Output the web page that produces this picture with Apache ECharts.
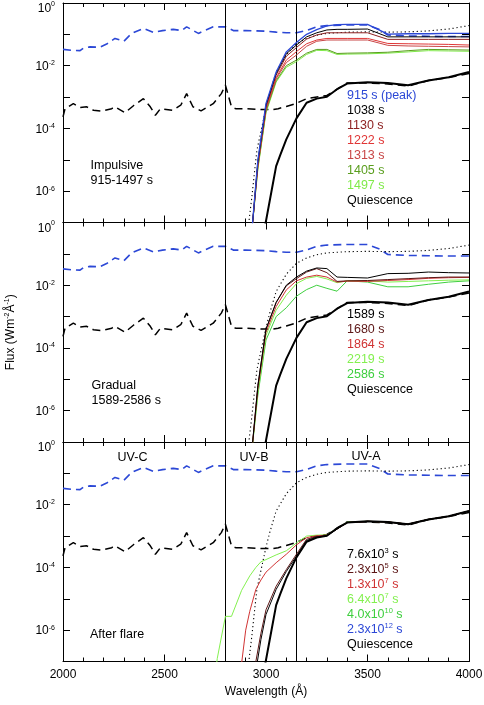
<!DOCTYPE html>
<html><head><meta charset="utf-8">
<script src="https://cdn.jsdelivr.net/npm/echarts@6/dist/echarts.min.js"></script>
<style>html,body{margin:0;padding:0;background:#fff}#c{width:484px;height:705px}</style>
</head><body><div id="c"></div>
<script>
// ---------- DATA (flux given as log10 of W m^-2 A^-1) ----------
const xTicks = [2000, 2500, 3000, 3500, 4000];
const uvBounds = [2800, 3150];
const uvBands = ['UV-C', 'UV-B', 'UV-A'];

const wlBlueDash = [2000, 2045, 2084, 2100, 2133, 2182, 2215, 2256, 2300, 2338, 2396, 2445, 2490, 2543, 2585, 2609, 2667, 2740, 2800, 2839, 2900, 3000, 3050, 3100, 3150, 3200, 3250, 3300, 3400, 3500, 3560, 3600, 3700, 3800, 3900, 4000];
const logBlueDash = [-1.48, -1.51, -1.52, -1.44, -1.40, -1.41, -1.31, -1.13, -1.22, -0.97, -0.81, -0.94, -0.88, -0.84, -0.88, -0.76, -0.97, -0.76, -0.76, -0.88, -0.88, -0.90, -0.93, -0.95, -0.95, -0.88, -0.76, -0.72, -0.70, -0.70, -0.85, -1.02, -1.05, -1.06, -1.07, -1.07];

const wlBlackDash = [2000, 2010, 2051, 2084, 2117, 2150, 2190, 2240, 2256, 2305, 2350, 2396, 2430, 2455, 2480, 2540, 2580, 2609, 2640, 2680, 2740, 2780, 2800, 2830, 2850, 2900, 2995, 3030, 3060, 3100, 3150, 3200, 3300, 3400, 3500, 3600, 3700, 3800, 3900, 4000];
const logBlackDash = [-3.63, -3.37, -3.21, -3.33, -3.31, -3.42, -3.45, -3.37, -3.31, -3.50, -3.26, -3.05, -3.31, -3.58, -3.37, -3.42, -3.26, -2.89, -3.31, -3.44, -3.21, -2.89, -2.62, -3.31, -3.37, -3.37, -3.40, -3.40, -3.37, -3.30, -3.20, -3.05, -2.95, -2.55, -2.55, -2.58, -2.65, -2.47, -2.38, -2.25];

const wlDotted = [2910, 2930, 2955, 2980, 3000, 3020, 3050, 3100, 3150, 3200, 3250, 3300, 3400, 3500, 3600, 3700, 3800, 3900, 4000];
const logDotted = [-7.3, -6.2, -4.7, -3.95, -3.35, -2.85, -2.2, -1.65, -1.3, -1.13, -1.03, -0.97, -0.93, -0.92, -0.93, -0.92, -0.89, -0.83, -0.72];

const wlQuiet = [2990, 3030, 3050, 3070, 3100, 3150, 3200, 3250, 3300, 3350, 3400, 3500, 3600, 3700, 3800, 3900, 4000];
const logQuiet = [-7.3, -5.9, -5.2, -4.85, -4.35, -3.68, -3.18, -3.05, -2.99, -2.75, -2.57, -2.53, -2.55, -2.62, -2.47, -2.37, -2.2];

// Panels 1 & 2 share a wavelength grid
const wlFlare = [2930, 2960, 3000, 3050, 3100, 3150, 3200, 3250, 3300, 3350, 3400, 3500, 3600, 3700, 3800, 3900, 4000];
// Impulsive phase
const imp915  = [-7.3, -5.0, -3.2, -2.2, -1.56, -1.26, -1.0, -0.85, -0.73, -0.69, -0.68, -0.68, -0.99, -0.98, -0.98, -0.97, -0.97];
const imp1038 = [-7.3, -5.05, -3.25, -2.25, -1.62, -1.34, -1.08, -0.95, -0.86, -0.84, -0.84, -0.83, -1.08, -1.08, -1.08, -1.08, -1.08];
const imp1130 = [-7.3, -5.1, -3.3, -2.3, -1.7, -1.42, -1.15, -1.02, -0.95, -0.95, -0.95, -0.95, -1.16, -1.16, -1.16, -1.16, -1.16];
const imp1222 = [-7.3, -5.15, -3.35, -2.38, -1.82, -1.55, -1.3, -1.18, -1.13, -1.13, -1.13, -1.13, -1.29, -1.30, -1.31, -1.32, -1.34];
const imp1313 = [-7.3, -5.2, -3.4, -2.42, -1.9, -1.66, -1.38, -1.22, -1.18, -1.18, -1.18, -1.18, -1.35, -1.37, -1.38, -1.39, -1.40];
const imp1405 = [-7.3, -5.25, -3.45, -2.48, -2.0, -1.82, -1.6, -1.48, -1.48, -1.61, -1.60, -1.59, -1.57, -1.52, -1.48, -1.49, -1.50];
const imp1497 = [-7.3, -5.3, -3.5, -2.52, -2.05, -1.87, -1.64, -1.51, -1.52, -1.64, -1.63, -1.62, -1.60, -1.56, -1.52, -1.53, -1.54];
// Gradual phase
const grd1589 = [-7.3, -5.2, -3.4, -2.55, -2.0, -1.74, -1.55, -1.45, -1.47, -1.74, -1.75, -1.77, -1.63, -1.62, -1.58, -1.60, -1.61];
const grd1680 = [-7.3, -5.2, -3.4, -2.55, -2.02, -1.79, -1.58, -1.47, -1.60, -1.88, -1.86, -1.85, -1.82, -1.79, -1.76, -1.74, -1.74];
const grd1864 = [-7.3, -5.3, -3.5, -2.68, -2.15, -1.86, -1.74, -1.68, -1.74, -1.90, -1.87, -1.88, -1.85, -1.82, -1.78, -1.76, -1.75];
const grd2219 = [-7.3, -5.4, -3.6, -2.8, -2.32, -1.95, -1.78, -1.72, -1.80, -1.92, -1.86, -1.86, -1.90, -1.88, -1.86, -1.84, -1.83];
const grd2586 = [-7.3, -5.5, -3.75, -3.0, -2.72, -2.35, -2.14, -2.0, -2.1, -2.19, -1.86, -1.90, -2.05, -2.05, -1.97, -1.90, -1.86];

// After flare
const wlAfter = [2750, 2760, 2800, 2830, 2880, 2900, 2920, 2950, 2975, 3000, 3050, 3100, 3150, 3200, 3250, 3300, 3400, 3500, 3600, 3700, 3800, 3900, 4000];
const aft76e3 = [null, null, null, null, null, null, null, -7.3, -6.3, -5.5, -4.7, -4.13, -3.64, -3.14, -3.04, -2.99, -2.57, -2.53, -2.55, -2.62, -2.47, -2.37, -2.2];
const aft23e5 = [null, null, null, null, null, null, null, -7.0, -6.1, -5.35, -4.6, -4.07, -3.58, -3.1, -3.02, -2.98, -2.57, -2.53, -2.55, -2.62, -2.47, -2.37, -2.2];
const aft13e7 = [null, null, null, null, -7.05, -6.0, -5.4, -4.7, -4.4, -4.15, -3.85, -3.58, -3.28, -3.05, -2.99, -2.97, -2.57, -2.53, -2.55, -2.62, -2.47, -2.37, -2.2];
const aft64e7 = [-7.4, -6.9, -5.56, -5.56, -4.73, -4.5, -4.27, -4.0, -3.82, -3.75, -3.6, -3.47, -3.22, -3.0, -2.97, -2.96, -2.55, -2.53, -2.55, -2.62, -2.47, -2.37, -2.2];

// Legend texts
const legendImp = ['915 s (peak)', '1038 s', '1130 s', '1222 s', '1313 s', '1405 s', '1497 s', 'Quiescence'];
const legendGrd = ['1589 s', '1680 s', '1864 s', '2219 s', '2586 s', 'Quiescence'];
const legendAft = ['{b|7.6x10}{s|3}{b| s}', '{b|2.3x10}{s|5}{b| s}', '{b|1.3x10}{s|7}{b| s}', '{b|6.4x10}{s|7}{b| s}', '{b|4.0x10}{s|10}{b| s}', '{b|2.3x10}{s|12}{b| s}', '{b|Quiescence}'];
const panelNames = [['Impulsive', '915-1497 s'], ['Gradual', '1589-2586 s'], ['After flare']];

// ---------- STYLE ----------
const FONT = '"Liberation Sans", Arial, Helvetica, sans-serif';
const C = {
  blue: '#2c48d6', k: '#000000', c1130: '#8e2222', c1222: '#e03636', c1313: '#c84646',
  c1405: '#5a9e1e', c1497: '#80ea4a', brown: '#5c1616', red: '#d03434', lime: '#84f050', green: '#3fcf3f'
};
const colImp = [C.blue, C.k, C.c1130, C.c1222, C.c1313, C.c1405, C.c1497, C.k];
const colGrd = [C.k, C.brown, C.red, C.lime, C.green, C.k];
const colAft = [C.k, C.brown, C.red, C.lime, C.green, C.blue, C.k];

const gridTops = [3, 222.5, 442];
const gridH = 219.5;

function toData(wl, logs) {
  const d = [];
  wl.forEach((w, k) => { if (logs[k] != null) d.push([w, Math.pow(10, logs[k])]); });
  return d;
}
function line(gi, wl, logs, color, width, type, z) {
  return {
    type: 'line', xAxisIndex: 2 * gi, yAxisIndex: 2 * gi, data: toData(wl, logs),
    symbol: 'none', showSymbol: false, silent: true, animation: false, clip: true,
    emphasis: { disabled: true },
    lineStyle: { color: color, width: width, type: type }, z: z
  };
}

const grids = [], xAxes = [], yAxes = [], series = [];
const supRich = {
  b: { fontSize: 12, lineHeight: 14, fontFamily: FONT, color: '#000' },
  s: { fontSize: 7, lineHeight: 7, verticalAlign: 'top', fontFamily: FONT, color: '#000' },
  sp: { fontSize: 1, lineHeight: 22, fontFamily: FONT, color: '#000' },
  t: { fontSize: 12, lineHeight: 14, verticalAlign: 'bottom', fontFamily: FONT, color: '#000' },
  ts: { fontSize: 7, lineHeight: 7, verticalAlign: 'middle', fontFamily: FONT, color: '#000' }
};

for (let i = 0; i < 3; i++) {
  grids.push({ left: 63, right: 15, top: gridTops[i], height: gridH, containLabel: false, outerBoundsMode: 'none' });
  const xb = {
    type: 'value', gridIndex: i, min: xTicks[0], max: xTicks[xTicks.length - 1], interval: 500,
    axisLine: { show: true, onZero: false, lineStyle: { color: '#000', width: 1 } },
    axisTick: { show: true, inside: true, length: 7, lineStyle: { color: '#000', width: 1 } },
    minorTick: { show: true, splitNumber: 5, length: 4, lineStyle: { color: '#000', width: 1 } },
    splitLine: { show: false }, minorSplitLine: { show: false }
  };
  xAxes.push(Object.assign({}, xb, {
    position: 'bottom',
    axisLabel: { show: i === 2, color: '#000', fontSize: 12, fontFamily: FONT, margin: 7, hideOverlap: false,
      showMinLabel: true, showMaxLabel: true, formatter: v => String(v) },
    name: i === 2 ? 'Wavelength (Å)' : '', nameLocation: 'middle', nameGap: 24,
    nameTextStyle: { color: '#000', fontSize: 12, fontFamily: FONT }
  }));
  xAxes.push(Object.assign({}, xb, { position: 'top', axisLabel: { show: false } }));

  const yb = {
    type: 'log', logBase: 10, gridIndex: i, min: 1e-7, max: 1,
    axisLine: { show: true, lineStyle: { color: '#000', width: 1 } },
    axisTick: { show: true, inside: true, length: 7, lineStyle: { color: '#000', width: 1 } },
    splitLine: { show: false }, minorTick: { show: false }
  };
  yAxes.push(Object.assign({}, yb, {
    position: 'left',
    axisLabel: {
      show: true, margin: 8, padding: [2, 0, 0, 0], color: '#000', fontFamily: FONT,
      formatter: function (v) {
        const e = Math.round(Math.log10(v));
        if (e % 2 !== 0) return '';
        return e === 0 ? '{sp| }{t|10}{ts|0}' : '{b|10}{s|' + e + '}';
      },
      rich: supRich
    },
    name: i === 1 ? '{b|Flux (Wm}{s|-2}{b|Å}{s|-1}{b|)}' : '',
    nameLocation: 'middle', nameRotate: 90, nameGap: 45,
    nameTextStyle: { rich: supRich }
  }));
  yAxes.push(Object.assign({}, yb, { position: 'right', axisLabel: { show: false } }));

  series.push(line(i, wlBlueDash, logBlueDash, C.blue, 1.6, [8, 5], 3));
  series.push(line(i, wlBlackDash, logBlackDash, C.k, 1.5, [8, 5], 3));
  series.push(line(i, wlDotted, logDotted, C.k, 1.1, [1.2, 2.8], 4));
}

// Panel-specific curves
[[imp1497, C.c1497], [imp1405, C.c1405], [imp1313, C.c1313], [imp1222, C.c1222], [imp1130, C.c1130], [imp1038, C.k], [imp915, C.blue]]
  .forEach(p => series.push(line(0, wlFlare, p[0], p[1], p[1] === C.blue ? 1.3 : 1, 'solid', 5)));
[[grd2586, C.green], [grd2219, C.lime], [grd1864, C.red], [grd1680, C.brown], [grd1589, C.k]]
  .forEach(p => series.push(line(1, wlFlare, p[0], p[1], 1, 'solid', 5)));
[[aft64e7, C.lime], [aft13e7, C.red], [aft23e5, C.brown], [aft76e3, C.k]]
  .forEach(p => series.push(line(2, wlAfter, p[0], p[1], 1, 'solid', 5)));

// Quiescence (thick) + UV band boundaries in every panel
for (let i = 0; i < 3; i++) {
  const s = line(i, wlQuiet, logQuiet, C.k, 2, 'solid', 6);
  s.markLine = {
    silent: true, animation: false, symbol: ['none', 'none'], label: { show: false },
    lineStyle: { color: '#000', width: 1, type: 'solid' },
    emphasis: { disabled: true },
    data: uvBounds.map(b => ({ xAxis: b }))
  };
  series.push(s);
}

// ---------- TEXT ----------
const graphic = [];
function txt(text, x, y, color, align) {
  graphic.push({
    type: 'text', x: x, y: y, silent: true, z: 10,
    style: {
      text: text, fill: color, fontSize: 12.5, fontFamily: FONT, align: align || 'left', verticalAlign: 'middle',
      rich: {
        b: { fontSize: 12.5, lineHeight: 15, fontFamily: FONT },
        s: { fontSize: 7.5, lineHeight: 8, verticalAlign: 'top', fontFamily: FONT }
      }
    }
  });
}
legendImp.forEach((t, k) => txt(t, 347, 95.7 + 15 * k, colImp[k]));
legendGrd.forEach((t, k) => txt(t, 347, 315 + 14.9 * k, colGrd[k]));
legendAft.forEach((t, k) => txt(t, 347, 554.3 + 15 * k, colAft[k]));
txt(panelNames[0][0], 90.5, 165.7, '#000'); txt(panelNames[0][1], 90.5, 180.7, '#000');
txt(panelNames[1][0], 91.5, 385.7, '#000'); txt(panelNames[1][1], 91.5, 400.5, '#000');
txt(panelNames[2][0], 90, 635, '#000');
txt(uvBands[0], 132.5, 458, '#000', 'center');
txt(uvBands[1], 254, 458, '#000', 'center');
txt(uvBands[2], 366, 456.5, '#000', 'center');

const chart = echarts.init(document.getElementById('c'), null, { renderer: 'canvas' });
chart.setOption({
  animation: false,
  backgroundColor: '#fff',
  textStyle: { fontFamily: FONT },
  grid: grids, xAxis: xAxes, yAxis: yAxes, series: series, graphic: graphic
});
</script></body></html>
